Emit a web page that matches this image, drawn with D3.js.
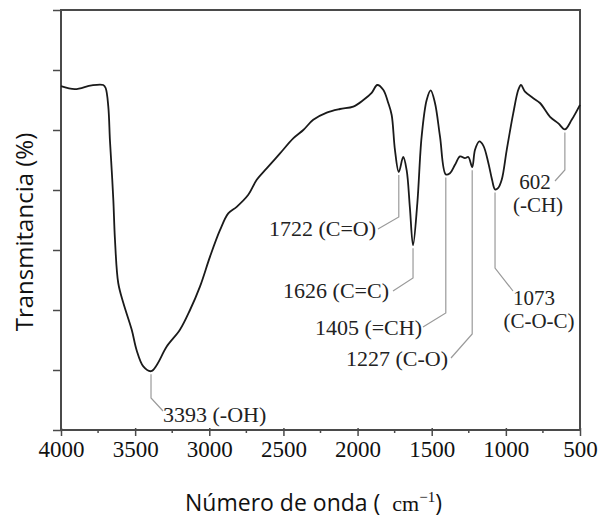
<!DOCTYPE html>
<html>
<head>
<meta charset="utf-8">
<script src="https://cdn.jsdelivr.net/npm/d3@7"></script>
<style>
  html, body { margin: 0; padding: 0; background: #fff; }
  svg { display: block; }
</style>
</head>
<body>
<svg id="chart" width="600" height="521"></svg>
<script>
// FTIR spectrum: wavenumber (cm-1) and transmittance (arbitrary units)
const wavenumber = [4000, 3906, 3793, 3715, 3699, 3681, 3670, 3658, 3647, 3636, 3614, 3580, 3523, 3490, 3445, 3393, 3355, 3287, 3198, 3130, 3063, 2995, 2928, 2872, 2815, 2737, 2680, 2613, 2523, 2434, 2366, 2299, 2208, 2119, 2029, 1961, 1905, 1867, 1827, 1793, 1770, 1748, 1722, 1692, 1669, 1647, 1626, 1597, 1568, 1534, 1507, 1478, 1444, 1405, 1377, 1343, 1309, 1276, 1253, 1227, 1208, 1179, 1152, 1118, 1093, 1073, 1053, 1028, 994, 950, 916, 898, 871, 815, 770, 702, 646, 602, 556, 500];
const transmittance = [5.73, 5.68, 5.745, 5.75, 5.70, 5.39, 4.83, 4.33, 3.83, 3.17, 2.45, 2.12, 1.67, 1.33, 1.06, 0.98, 1.08, 1.39, 1.67, 2.00, 2.39, 2.89, 3.33, 3.61, 3.72, 3.92, 4.17, 4.36, 4.61, 4.86, 5.00, 5.17, 5.29, 5.35, 5.39, 5.50, 5.62, 5.75, 5.67, 5.45, 5.25, 4.67, 4.30, 4.55, 4.33, 3.70, 3.08, 3.78, 4.89, 5.50, 5.66, 5.45, 4.89, 4.26, 4.28, 4.42, 4.56, 4.53, 4.55, 4.38, 4.67, 4.81, 4.74, 4.45, 4.17, 4.01, 4.03, 4.17, 4.67, 5.28, 5.67, 5.75, 5.64, 5.53, 5.45, 5.22, 5.11, 5.01, 5.17, 5.42];

// Band assignments
const peakWavenumbers = [3393, 1722, 1626, 1405, 1227, 1073, 602];
const peakLabels = [["3393 (-OH)"], ["1722 (C=O)"], ["1626 (C=C)"], ["1405 (=CH)"], ["1227 (C-O)"], ["1073", "(C-O-C)"], ["602", "(-CH)"]];

// Axis ticks
const xTickValues = [4000, 3500, 3000, 2500, 2000, 1500, 1000, 500];
const xTickLabels = ["4000", "3500", "3000", "2500", "2000", "1500", "1000", "500"];
const xMinorTicks = [3750, 3250, 2750, 2250, 1750, 1250, 750];
const yTickValues = [0, 1, 2, 3, 4, 5, 6, 7];

const svg = d3.select("#chart");
const plot = { left: 61, top: 10, right: 580, bottom: 430 };

const x = d3.scaleLinear().domain([4000, 500]).range([plot.left, plot.right]);
const y = d3.scaleLinear().domain([0, 7]).range([plot.bottom, plot.top]);

const axisColor = "#4a4a4a";
const serif = "'Liberation Serif', 'Times New Roman', serif";
const sans = "'Open Sans', 'Noto Sans', sans-serif";

// Bottom axis with labels
const xAxis = d3.axisBottom(x)
  .tickValues(xTickValues)
  .tickFormat((d, i) => xTickLabels[i])
  .tickSize(6)
  .tickSizeOuter(0)
  .tickPadding(5);
const gx = svg.append("g").attr("transform", `translate(0,${plot.bottom})`).call(xAxis);
gx.select(".domain").remove();
gx.selectAll(".tick line").attr("stroke", axisColor).attr("stroke-width", 1.5).attr("y1", -2);
gx.selectAll(".tick text")
  .attr("fill", "#111")
  .style("font-family", serif)
  .style("font-size", "23px");

// Minor ticks on the x axis
svg.append("g").selectAll("line")
  .data(xMinorTicks)
  .join("line")
  .attr("x1", d => x(d)).attr("x2", d => x(d))
  .attr("y1", plot.bottom - 1).attr("y2", plot.bottom + 3)
  .attr("stroke", axisColor).attr("stroke-width", 1.5);

// Left axis: unlabeled ticks
const yAxis = d3.axisLeft(y).tickValues(yTickValues).tickFormat("").tickSize(8).tickSizeOuter(0);
const gy = svg.append("g").attr("transform", `translate(${plot.left},0)`).call(yAxis);
gy.select(".domain").remove();
gy.selectAll(".tick line").attr("stroke", axisColor).attr("stroke-width", 1.5);

// Frame
svg.append("rect")
  .attr("x", plot.left).attr("y", plot.top)
  .attr("width", plot.right - plot.left).attr("height", plot.bottom - plot.top)
  .attr("fill", "none").attr("stroke", axisColor).attr("stroke-width", 2);

// Spectrum line
const spectrum = wavenumber.map((w, i) => ({ w, t: transmittance[i] }));
const line = d3.line()
  .x(d => x(d.w))
  .y(d => y(d.t))
  .curve(d3.curveCatmullRom.alpha(0.5));
svg.append("path")
  .datum(spectrum)
  .attr("d", line)
  .attr("fill", "none")
  .attr("stroke", "#1a1a1a")
  .attr("stroke-width", 1.8)
  .attr("stroke-linejoin", "round");

// Leader lines and band labels
const layout = {
  3393: { elbow: 398, end: [163, 411], lines: [{ x: 163, y: 422, anchor: "start" }] },
  1722: { elbow: 217, end: [378, 229], lines: [{ x: 376, y: 236, anchor: "end" }] },
  1626: { elbow: 278, end: [393, 291], lines: [{ x: 389, y: 298, anchor: "end" }] },
  1405: { elbow: 313, end: [423, 327], lines: [{ x: 422, y: 335, anchor: "end" }] },
  1227: { elbow: 334, end: [451, 358], lines: [{ x: 448, y: 366, anchor: "end" }] },
  1073: { elbow: 268, end: [513, 291], lines: [{ x: 534, y: 305, anchor: "middle" }, { x: 539, y: 328, anchor: "middle" }] },
  602:  { elbow: 170, end: [555, 181], lines: [{ x: 535, y: 189, anchor: "middle" }, { x: 538, y: 212, anchor: "middle" }] }
};

const tAt = w => transmittance[wavenumber.indexOf(w)];
const ann = svg.append("g");
peakWavenumbers.forEach((w, i) => {
  const L = layout[w];
  const px = x(w);
  const py = y(tAt(w)) + 3;
  const twoLine = peakLabels[i].length > 1;
  ann.append("path")
    .attr("d", `M${px},${py}V${L.elbow}L${L.end[0]},${L.end[1]}`)
    .attr("fill", "none")
    .attr("stroke", "#9a9a9a")
    .attr("stroke-width", 1.2);
  peakLabels[i].forEach((txt, j) => {
    const p = L.lines[j];
    ann.append("text")
      .attr("x", p.x).attr("y", p.y)
      .attr("text-anchor", p.anchor)
      .attr("fill", "#222")
      .style("font-family", serif)
      .style("font-size", twoLine ? "21px" : "22px")
      .text(txt);
  });
});

// Axis titles
svg.append("text")
  .attr("transform", "translate(33,232) rotate(-90)")
  .attr("text-anchor", "middle")
  .attr("fill", "#111")
  .style("font-family", sans)
  .style("font-size", "24px")
  .text("Transmitancia (%)");

const xt = svg.append("text")
  .attr("x", 185).attr("y", 511)
  .attr("fill", "#111")
  .style("font-family", sans)
  .style("font-size", "23px");
xt.append("tspan").text("Número de onda (\u00a0\u00a0");
xt.append("tspan").style("font-family", serif).style("font-size", "22px").text("cm");
xt.append("tspan").style("font-family", serif).style("font-size", "15px").attr("dy", -9).text("\u22121");
xt.append("tspan").attr("dy", 9).text(")");
</script>
</body>
</html>
